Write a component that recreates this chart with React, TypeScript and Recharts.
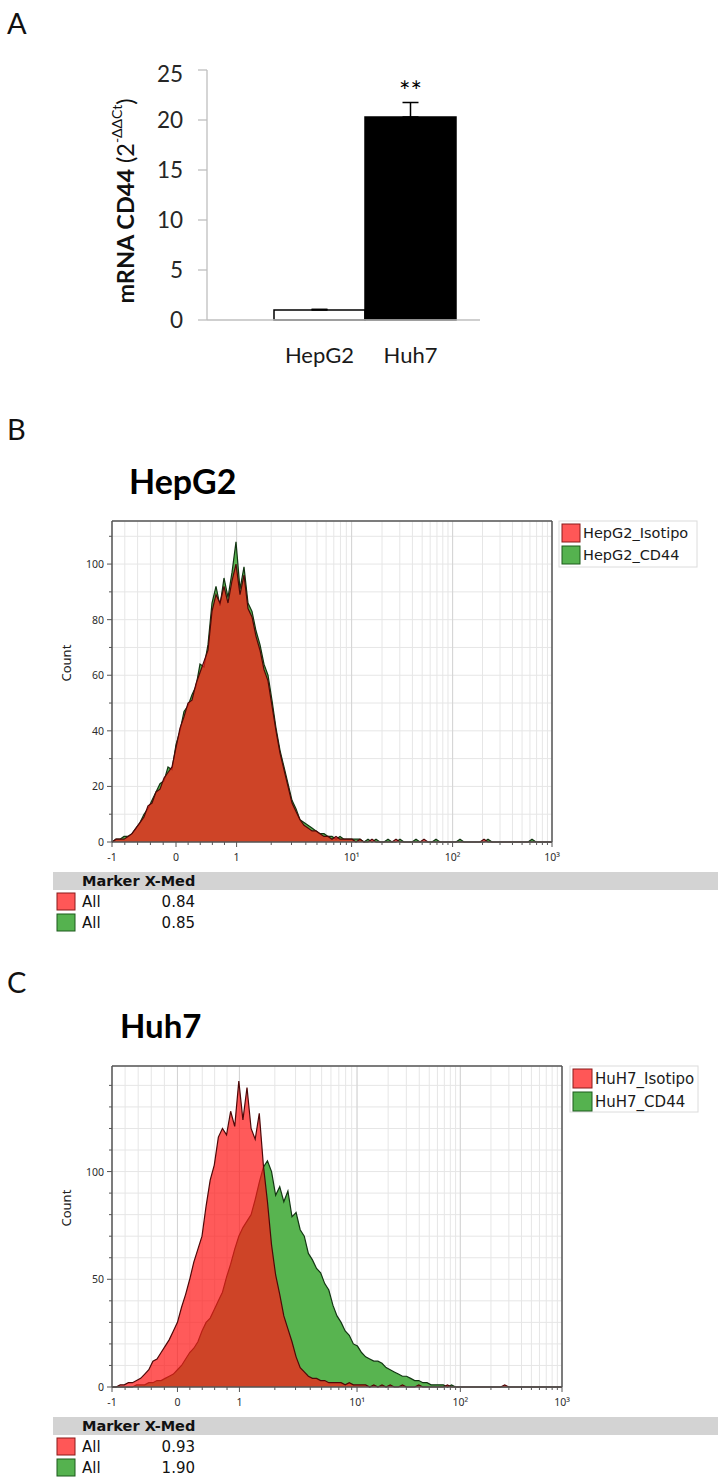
import { Area, Bar, BarChart, CartesianGrid, Cell, ComposedChart, ErrorBar, LabelList, ReferenceLine, XAxis, YAxis } from "recharts";

// Panel A: qPCR bars
const BAR_CATEGORIES = ["HepG2", "Huh7"];
const BAR_VALUES = [1.0, 20.3];
const BAR_ERRORS = [0.07, 1.45];
const BAR_FILLS = ["#ffffff", "#000000"];
const BAR_SIG = ["", "**"];
const BAR_TICKS = [0, 5, 10, 15, 20, 25];

// Panels B/C: flow histograms, 2-channel bins on a 0..220 display scale
const CHANNELS = Array.from({ length: 111 }, (_, i) => i * 2);

const HEPG2_ISO = [
  0, 1, 1, 1, 2, 3, 5, 7, 9, 13,
  14, 18, 19, 23, 25, 27, 34, 41, 45, 50,
  51, 57, 61, 65, 69, 83, 89, 86, 92, 86,
  94, 100, 89, 96, 84, 81, 74, 69, 62, 58,
  49, 40, 32, 26, 20, 14, 11, 8, 6, 5,
  4, 4, 3, 2, 2, 1, 2, 1, 1, 1,
  1, 0, 1, 0, 0, 1, 0, 0, 0, 0,
  0, 1, 0, 0, 0, 0, 0, 0, 1, 0,
  0, 0, 0, 0, 0, 0, 0, 0, 0, 0,
  0, 0, 0, 1, 0, 0, 0, 0, 0, 0,
  0, 0, 0, 0, 0, 0, 0, 0, 0, 0, 0,
];
const HEPG2_CD44 = [
  0, 1, 1, 2, 2, 3, 5, 7, 10, 12,
  15, 18, 21, 22, 27, 26, 35, 40, 47, 49,
  53, 56, 64, 63, 71, 86, 92, 85, 95, 88,
  97, 108, 91, 99, 86, 83, 76, 71, 64, 60,
  51, 41, 33, 27, 21, 15, 12, 8, 7, 6,
  5, 4, 3, 3, 2, 2, 1, 2, 1, 1,
  1, 1, 1, 0, 1, 0, 1, 0, 0, 1,
  0, 0, 1, 0, 0, 0, 1, 0, 0, 0,
  0, 1, 0, 0, 0, 0, 0, 1, 0, 0,
  0, 0, 0, 0, 1, 0, 0, 0, 0, 0,
  0, 0, 0, 0, 0, 1, 0, 0, 0, 0, 0,
];
const HUH7_ISO = [
  0, 0, 1, 1, 2, 2, 3, 4, 6, 8,
  12, 13, 16, 19, 22, 26, 30, 37, 43, 50,
  58, 64, 70, 84, 96, 103, 116, 120, 117, 128,
  121, 142, 124, 139, 120, 115, 127, 103, 86, 66,
  52, 43, 33, 27, 21, 14, 9, 7, 5, 4,
  4, 3, 3, 2, 2, 2, 2, 1, 2, 1,
  1, 1, 1, 0, 1, 0, 1, 0, 1, 0,
  0, 1, 0, 0, 0, 1, 0, 0, 0, 0,
  0, 0, 1, 0, 0, 0, 0, 0, 0, 0,
  0, 0, 0, 0, 0, 0, 1, 0, 0, 0,
  0, 0, 0, 0, 0, 0, 0, 0, 0, 0, 0,
];
const HUH7_CD44 = [
  0, 0, 0, 0, 0, 0, 1, 1, 1, 2,
  2, 3, 3, 4, 5, 6, 8, 10, 13, 16,
  18, 21, 26, 30, 32, 36, 40, 44, 51, 57,
  64, 70, 74, 77, 80, 87, 95, 102, 105, 100,
  89, 93, 86, 91, 79, 81, 73, 70, 62, 59,
  55, 53, 48, 45, 38, 33, 30, 26, 24, 20,
  19, 16, 14, 13, 12, 12, 11, 9, 8, 7,
  6, 5, 5, 4, 3, 3, 2, 2, 1, 1,
  1, 1, 0, 1, 0, 0, 0, 0, 0, 0,
  0, 0, 0, 0, 0, 0, 0, 0, 0, 0,
  0, 0, 0, 0, 0, 0, 0, 0, 0, 0, 0,
];

const HEPG2_Y_TICKS = [0, 10, 20, 30, 40, 50, 60, 70, 80, 90, 100, 110];
const HEPG2_Y_LABELS = [0, 20, 40, 60, 80, 100];
const HUH7_Y_TICKS = [0, 10, 20, 30, 40, 50, 60, 70, 80, 90, 100, 110, 120, 130, 140];
const HUH7_Y_LABELS = [0, 50, 100];

const HEPG2_LEGEND = ["HepG2_Isotipo", "HepG2_CD44"];
const HUH7_LEGEND = ["HuH7_Isotipo", "HuH7_CD44"];
const HEPG2_MEDIANS = ["0.84", "0.85"];
const HUH7_MEDIANS = ["0.93", "1.90"];

// biexponential-like display axis
const X_MAJOR_LABELS = ["-1", "0", "1", "10¹", "10²", "10³"];
const X_ANCHORS = [0, 32, 62.3, 119.8, 170.3, 220];
const X_MINOR_VALUES = [-0.8, -0.6, -0.4, -0.2, 0.2, 0.4, 0.6, 0.8, 2, 3, 4, 5, 6, 7, 8, 9, 20, 30, 40, 50, 60, 70, 80, 90, 200, 300, 400, 500, 600, 700, 800, 900];

function toChannel(v: number) {
  if (v <= 0) return X_ANCHORS[0] + (v + 1) * (X_ANCHORS[1] - X_ANCHORS[0]);
  if (v <= 1) return X_ANCHORS[1] + v * (X_ANCHORS[2] - X_ANCHORS[1]);
  const k = Math.min(Math.floor(Math.log10(v)), 2);
  const a = X_ANCHORS[2 + k];
  const b = X_ANCHORS[3 + k];
  return a + (Math.log10(v) - k) * (b - a);
}

const X_TICKS = [...X_ANCHORS, ...X_MINOR_VALUES.map(toChannel)].sort((a, b) => a - b);

const RED = "#ff1717";
const GREEN = "#58b450";
const FRAME = "#555555";

function FlowXTick(props: any) {
  const { x, y, payload } = props;
  const i = X_ANCHORS.findIndex((c) => Math.abs(c - payload.value) < 0.01);
  const major = i >= 0;
  return (
    <g>
      <line x1={x} x2={x} y1={y} y2={y + (major ? 5 : 3)} stroke={FRAME} strokeWidth={1} />
      {major && (
        <text x={x} y={y + 19} textAnchor="middle" fontSize={10.5} fontFamily="Noto Sans" fill="#2b2b2b">
          {X_MAJOR_LABELS[i]}
        </text>
      )}
    </g>
  );
}

function makeYTick(labelled: number[]) {
  return (props: any) => {
    const { x, y, payload } = props;
    const major = labelled.includes(payload.value);
    return (
      <g>
        <line x1={x - (major ? 5 : 3)} x2={x} y1={y} y2={y} stroke={FRAME} strokeWidth={1} />
        {major && (
          <text x={x - 8} y={y + 4} textAnchor="end" fontSize={10.5} fontFamily="Noto Sans" fill="#2b2b2b">
            {payload.value}
          </text>
        )}
      </g>
    );
  };
}

// slightly darker grid lines at -1, 0, 1, 10, 100
const majorGrid = (args: any) => {
  const off = args && args.offset;
  if (!off) return [];
  return X_ANCHORS.slice(1, 5).map((c) => off.left + (c / 220) * off.width);
};

function FlowPanel({ top, right, yMax, yTicks, yLabels, iso, cd44 }: any) {
  const data = CHANNELS.map((ch, i) => ({ ch, iso: iso[i], cd44: cd44[i] }));
  return (
    <div style={{ position: "absolute", left: 0, top }}>
      <ComposedChart width={725} height={367} data={data} margin={{ top: 21, right, left: 52, bottom: 0 }}>
        <CartesianGrid stroke="#e6e6e6" />
        <CartesianGrid stroke="#d4d4d4" horizontal={false} verticalCoordinatesGenerator={majorGrid} />
        <XAxis
          type="number"
          dataKey="ch"
          domain={[0, 220]}
          ticks={X_TICKS}
          interval={0}
          tickSize={0}
          tickMargin={0}
          tickLine={false}
          axisLine={{ stroke: FRAME, strokeWidth: 1.5 }}
          tick={FlowXTick}
          height={25}
        />
        <YAxis
          type="number"
          domain={[0, yMax]}
          ticks={yTicks}
          interval={0}
          tickSize={0}
          tickMargin={0}
          tickLine={false}
          axisLine={{ stroke: FRAME, strokeWidth: 1.5 }}
          tick={makeYTick(yLabels)}
          width={60}
          label={{ value: "Count", angle: -90, position: "insideLeft", offset: 14, style: { fontSize: 13, fontFamily: "Noto Sans", fill: "#222" } }}
        />
        <Area type="linear" dataKey="cd44" fill={GREEN} fillOpacity={1} stroke="#123512" strokeWidth={1.2} dot={false} activeDot={false} isAnimationActive={false} />
        <Area type="linear" dataKey="iso" fill={RED} fillOpacity={0.71} stroke="#4e0808" strokeWidth={1.2} dot={false} activeDot={false} isAnimationActive={false} />
        <ReferenceLine y={yMax} stroke={FRAME} strokeWidth={1.5} />
        <ReferenceLine x={220} stroke={FRAME} strokeWidth={1.5} />
      </ComposedChart>
    </div>
  );
}

function AxisTitle(props: any) {
  const vb = props.viewBox || { x: 0, y: 10, width: 107, height: 250 };
  const cx = vb.x + 25;
  const cy = vb.y + vb.height / 2 + 6;
  return (
    <text x={cx} y={cy} transform={`rotate(-90, ${cx}, ${cy})`} textAnchor="middle" dominantBaseline="central" fontFamily="Lato" fontSize={23.5} fill="#111">
      <tspan fontWeight="bold">mRNA CD44</tspan>
      <tspan> (2</tspan>
      <tspan fontSize={14} dy={-9}>-ΔΔCt</tspan>
      <tspan dy={9}>)</tspan>
    </text>
  );
}

function Legend({ x, y, w, h, sw, labels, fontSize }: any) {
  return (
    <g>
      <rect x={x} y={y} width={w} height={h} fill="#fff" stroke="#dcdcdc" />
      {labels.map((t: string, i: number) => (
        <g key={t}>
          <rect x={x + 3} y={y + 3 + i * (sw + 4)} width={sw} height={sw} fill={i === 0 ? "#ff5757" : "#55b24f"} stroke={i === 0 ? "#8a1a1a" : "#1d5a1d"} />
          <text x={x + sw + 6} y={y + 3 + i * (sw + 4) + sw / 2 + 5} fontFamily="DejaVu Sans" fontSize={fontSize} fill="#1a1a1a">
            {t}
          </text>
        </g>
      ))}
    </g>
  );
}

function MarkerTable({ y, values }: any) {
  return (
    <g fontFamily="DejaVu Sans">
      <rect x={53} y={y} width={665} height={18} fill="#d3d3d3" />
      <text x={82} y={y + 14} fontSize={14.5} fontWeight="bold" fill="#111">Marker X-Med</text>
      {values.map((v: string, i: number) => (
        <g key={i}>
          <rect x={57} y={y + 21 + i * 21} width={18} height={17} fill={i === 0 ? "#ff5757" : "#55b24f"} stroke={i === 0 ? "#8a1a1a" : "#1d5a1d"} />
          <text x={82} y={y + 35 + i * 21} fontSize={15} fill="#111">All</text>
          <text x={195} y={y + 35 + i * 21} fontSize={15} fill="#111" textAnchor="end">{v}</text>
        </g>
      ))}
    </g>
  );
}

export default function App() {
  const barData = BAR_CATEGORIES.map((name, i) => ({ name, value: BAR_VALUES[i], err: [0, BAR_ERRORS[i]], sig: BAR_SIG[i] }));
  return (
    <div style={{ position: "absolute", left: 0, top: 0, width: 725, height: 1484, background: "#fff" }}>
      <svg width={725} height={1484} style={{ position: "absolute", left: 0, top: 0 }}>
        <text x={7} y={34} fontFamily="Lato" fontSize={29} fill="#111">A</text>
        <text x={7} y={440} fontFamily="Lato" fontSize={29} fill="#111">B</text>
        <text x={7} y={993} fontFamily="Lato" fontSize={29} fill="#111">C</text>
        <text x={129} y={494} fontFamily="Lato" fontSize={34} fontWeight="bold" fill="#000">HepG2</text>
        <text x={120} y={1038} fontFamily="Lato" fontSize={33} fontWeight="bold" fill="#000">Huh7</text>
        <Legend x={559} y={521} w={138} h={46} sw={18} labels={HEPG2_LEGEND} fontSize={14.5} />
        <Legend x={570} y={1066} w={128} h={46} sw={19} labels={HUH7_LEGEND} fontSize={15} />
        <MarkerTable y={872} values={HEPG2_MEDIANS} />
        <MarkerTable y={1417} values={HUH7_MEDIANS} />
      </svg>

      <div style={{ position: "absolute", left: 100, top: 60 }}>
        <BarChart width={400} height={310} data={barData} margin={{ top: 10, right: 20, left: 0, bottom: 5 }} barCategoryGap={0} barGap={0}>
          <XAxis
            dataKey="name"
            axisLine={{ stroke: "#bfbfbf", strokeWidth: 1.3 }}
            tickLine={false}
            tickSize={0}
            tickMargin={27}
            height={45}
            padding={{ left: 67, right: 24 }}
            interval={0}
            tick={{ fontSize: 22, fill: "#1a1a1a", fontFamily: "Lato" }}
          />
          <YAxis
            domain={[0, 25]}
            ticks={BAR_TICKS}
            width={107}
            axisLine={{ stroke: "#bfbfbf", strokeWidth: 1.3 }}
            tickLine={{ stroke: "#bfbfbf", strokeWidth: 1.3 }}
            tickSize={9}
            tickMargin={15}
            tick={{ fontSize: 22.5, fill: "#262626", fontFamily: "Lato" }}
            label={<AxisTitle />}
          />
          <Bar dataKey="value" stroke="#000" strokeWidth={1.5} isAnimationActive={false}>
            {barData.map((d, i) => (
              <Cell key={d.name} fill={BAR_FILLS[i]} />
            ))}
            <ErrorBar dataKey="err" width={8} stroke="#000" strokeWidth={1.5} direction="y" />
            <LabelList dataKey="sig" position="top" offset={16} style={{ fontSize: 27, fill: "#000", fontFamily: "Lato" }} />
          </Bar>
        </BarChart>
      </div>

      <FlowPanel top={500} right={173} yMax={115.5} yTicks={HEPG2_Y_TICKS} yLabels={HEPG2_Y_LABELS} iso={HEPG2_ISO} cd44={HEPG2_CD44} />
      <FlowPanel top={1045} right={163} yMax={149} yTicks={HUH7_Y_TICKS} yLabels={HUH7_Y_LABELS} iso={HUH7_ISO} cd44={HUH7_CD44} />
    </div>
  );
}
